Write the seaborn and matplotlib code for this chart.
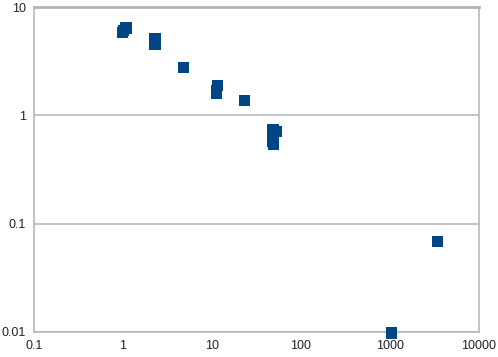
import matplotlib
matplotlib.use("Agg")
import matplotlib.pyplot as plt
import seaborn as sns
import pandas as pd
import numpy as np
from matplotlib.ticker import FixedLocator, FixedFormatter, NullLocator

x_vals = [0.99, 1.08, 1.02, 2.29, 2.29, 4.78, 11.4, 11.2, 11.3, 23.2, 48.5, 52.6, 48.5, 48.8, 1040, 3420]
y_vals = [5.87, 6.4, 6.1, 5.07, 4.55, 2.79, 1.87, 1.6, 1.7, 1.37, 0.746, 0.714, 0.58, 0.54, 0.0098, 0.068]
x_ticks = [0.1, 1, 10, 100, 1000, 10000]
x_labels = ["0.1", "1", "10", "100", "1000", "10000"]
y_ticks = [0.01, 0.1, 1, 10]
y_labels = ["0.01", "0.1", "1", "10"]

df = pd.DataFrame({"x": x_vals, "y": y_vals})

sns.set_style("white")
plt.rcParams["font.family"] = ["Liberation Sans", "DejaVu Sans"]

fig = plt.figure(figsize=(4.98, 3.57), dpi=100)
ax = fig.add_axes([34/498, 25/357, 445/498, 325/357])
grid_c = "#b3b3b3"

sns.scatterplot(data=df, x="x", y="y", marker="s", s=64, color="#004586",
                edgecolor="none", linewidth=0, ax=ax, clip_on=False, zorder=3)

ax.set_xscale("log")
ax.set_yscale("log")
ax.set_xlim(0.1, 10000)
ax.set_ylim(0.01, 10)
ax.xaxis.set_major_locator(FixedLocator(x_ticks))
ax.xaxis.set_major_formatter(FixedFormatter(x_labels))
ax.yaxis.set_major_locator(FixedLocator(y_ticks))
ax.yaxis.set_major_formatter(FixedFormatter(y_labels))
ax.xaxis.set_minor_locator(NullLocator())
ax.yaxis.set_minor_locator(NullLocator())

ax.yaxis.grid(True, color=grid_c, linewidth=1.1)
ax.xaxis.grid(False)
ax.set_axisbelow(True)
for side in ["left", "right"]:
    ax.spines[side].set_color(grid_c)
    ax.spines[side].set_linewidth(1.1)
ax.spines["top"].set_color(grid_c)
ax.spines["top"].set_linewidth(2)
ax.spines["bottom"].set_color(grid_c)
ax.spines["bottom"].set_linewidth(1.1)

ax.tick_params(axis="both", which="major", length=4, width=1.1, color=grid_c,
               labelsize=9, labelcolor="#222222", direction="out", pad=2)
ax.set_xlabel("")
ax.set_ylabel("")

fig.savefig("out.png", dpi=100)
